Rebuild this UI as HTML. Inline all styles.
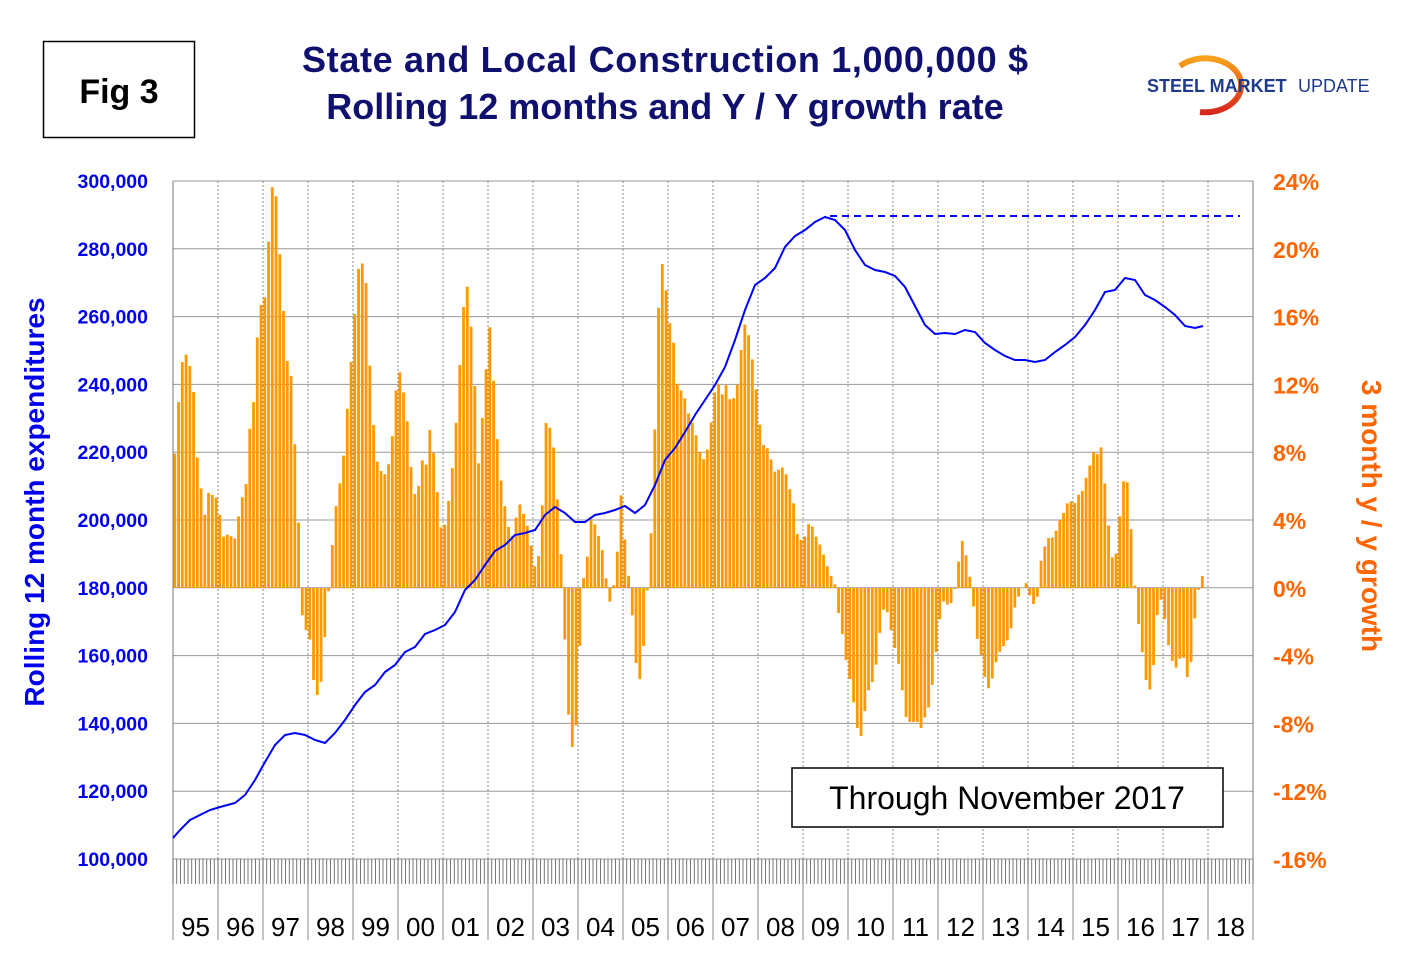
<!DOCTYPE html>
<html><head><meta charset="utf-8"><style>
body{margin:0;background:#fff;}
svg{display:block;font-family:"Liberation Sans",Arial,sans-serif;}
</style></head><body>
<svg id="s" width="1420" height="973" viewBox="0 0 1420 973" xmlns="http://www.w3.org/2000/svg">
<defs><linearGradient id="lg" x1="0" y1="0" x2="0" y2="1"><stop offset="0" stop-color="#f7a21b"/><stop offset="1" stop-color="#d9261c"/></linearGradient></defs>
<rect width="1420" height="973" fill="#fff"/>
<rect x="43.5" y="41.5" width="151" height="96" fill="#fff" stroke="#000" stroke-width="1.5"/>
<text x="119" y="103" font-size="34" font-weight="bold" text-anchor="middle">Fig 3</text>
<text x="665" y="72" font-size="36" font-weight="bold" fill="#10106e" text-anchor="middle" textLength="726">State and Local Construction 1,000,000 $</text>
<text x="665" y="119" font-size="36" font-weight="bold" fill="#10106e" text-anchor="middle">Rolling 12 months and Y / Y growth rate</text>
<path d="M1180,66 A36,27 0 1,1 1200,112" fill="none" stroke="url(#lg)" stroke-width="6"/>
<text x="1147" y="92" font-size="18" font-weight="bold" fill="#1f3a8a">STEEL MARKET</text>
<text x="1298" y="92" font-size="18" fill="#1f3a8a">UPDATE</text>
<g id="grid"></g>
<g id="bars" fill="#ff9900"></g>
<path id="line" fill="none" stroke="#0000ff" stroke-width="2"/>
<line x1="830" y1="216" x2="1240" y2="216" stroke="#0000ff" stroke-width="2" stroke-dasharray="7,5"/>
<rect x="792" y="768" width="431" height="59" fill="#fff" stroke="#000" stroke-width="1.5"/>
<text x="1007" y="809" font-size="32" text-anchor="middle">Through November 2017</text>
<g id="lab"></g>
<text transform="translate(44,502) rotate(-90)" font-size="28" font-weight="bold" fill="#0000ee" text-anchor="middle">Rolling 12 month expenditures</text>
<text transform="translate(1362,516) rotate(90)" font-size="28" font-weight="bold" fill="#ff6600" text-anchor="middle">3 month y / y growth</text>
</svg>
<script>
var NS="http://www.w3.org/2000/svg";
function el(p,t,a,txt){var e=document.createElementNS(NS,t);for(var k in a)e.setAttribute(k,a[k]);if(txt)e.textContent=txt;document.getElementById(p).appendChild(e);}
var L=173,R=1253,T=181,B=859;
for(var i=0;i<=10;i++){var y=T+i*67.8;el("grid","line",{x1:L,x2:R,y1:y,y2:y,stroke:"#999","stroke-width":1});
 el("lab","text",{x:148,y:y+7,"font-size":19.5,"font-weight":"bold",fill:"#0000ee","text-anchor":"end"},(300000-i*20000).toLocaleString("en-US"));
 el("lab","text",{x:1273,y:y+9,"font-size":23,"font-weight":"bold",fill:"#ff6600"},(24-i*4)+"%");}
var yrs=["95","96","97","98","99","00","01","02","03","04","05","06","07","08","09","10","11","12","13","14","15","16","17","18"];
for(var j=0;j<=24;j++){var x=L+j*45;el("grid","line",{x1:x,x2:x,y1:T,y2:B,stroke:"#888","stroke-width":1,"stroke-dasharray":"2,2"});
 el("grid","line",{x1:x,x2:x,y1:B,y2:940,stroke:"#888","stroke-width":1});
 if(j<24)el("lab","text",{x:x+22.5,y:936,"font-size":26,"text-anchor":"middle"},yrs[j]);}
for(var m=0;m<=288;m++){var x=L+m*3.75;el("grid","line",{x1:x,x2:x,y1:B,y2:884,stroke:"#555","stroke-width":0.8});}
el("grid","line",{x1:L,x2:L,y1:T,y2:B,stroke:"#777","stroke-width":1});
el("grid","line",{x1:R,x2:R,y1:T,y2:B,stroke:"#777","stroke-width":1});
var bk=[173,478,177,424,181,367,185,352,189,362,193,382,197,455,201,488,205,516,209,490,213,496,217,498,221,522,225,545,229,527,233,545,237,530,241,495,245,502,249,433,253,412,257,340,261,305,265,297,268,250,272,188,275,180,279,242,283,303,287,360,291,375,295,448,298,508,302,614,306,630,310,640,314,685,318,697,322,677,326,620,330,575,334,523,338,490,342,475,346,425,350,375,354,325,358,270,362,262,366,282,370,370,374,432,378,468,382,472,386,475,390,458,394,420,398,362,402,385,406,404,410,457,414,495,418,490,422,460,426,465,430,428,434,456,438,500,442,536,446,520,450,490,454,452,458,395,462,328,466,274,470,313,474,365,478,470,482,422,486,370,490,325,494,388,498,450,502,490,506,513,510,535,514,536,518,500,522,510,526,520,530,538,534,567,538,563,542,512,546,423,550,428,554,450,558,510,562,568,566,670,570,740,574,752,578,700,582,580,586,575,590,518,594,522,598,534,602,548,606,578,610,603,614,583,618,545,622,480,626,565,630,582,634,640,638,685,642,672,646,605,650,560,654,458,658,315,662,262,666,290,670,325,674,345,678,392,682,390,686,402,690,420,694,425,698,445,702,460,706,458,710,432,714,395,718,382,722,395,726,385,730,400,734,398,738,382,742,340,746,318,750,345,754,370,758,408,762,445,766,445,770,455,774,472,778,470,782,467,786,474,790,490,794,505,798,540,802,540,806,535,810,518,814,533,818,540,822,550,826,562,830,575,834,578,838,610,842,632,846,660,850,680,854,705,858,733,862,737,866,700,870,685,874,680,878,650,882,612,886,606,890,625,894,645,898,660,902,688,906,717,910,722,914,722,918,722,922,730,926,712,930,705,934,670,938,635,942,600,946,604,950,606,954,595,958,565,962,540,966,555,970,578,974,610,978,645,982,658,986,685,990,690,994,670,998,655,1002,648,1006,643,1010,635,1014,610,1018,598,1022,588,1026,583,1030,596,1034,605,1038,595,1042,550,1046,545,1050,534,1054,540,1058,522,1062,518,1066,505,1070,500,1074,505,1078,495,1082,492,1086,478,1090,465,1094,450,1098,455,1102,445,1106,500,1110,540,1114,570,1118,538,1122,490,1126,468,1130,512,1134,577,1138,620,1142,650,1146,680,1150,690,1154,662,1158,605,1162,598,1166,628,1170,655,1174,665,1178,670,1182,645,1186,678,1190,675,1194,625,1198,592,1202,576];
function interp(a,x){for(var i=0;i<a.length-2;i+=2){if(x<=a[i+2]){var t=(x-a[i])/(a[i+2]-a[i]);return a[i+1]+t*(a[i+3]-a[i+1]);}}return a[a.length-1];}
var Z=588;
for(var m=0;m<275;m++){var x=L+m*3.75+0.4;var y=interp(bk,x+1.4);var h=Math.abs(Z-y);if(h<0.5)continue;
 el("bars","rect",{x:x.toFixed(2),y:Math.min(y,Z).toFixed(1),width:2.8,height:h.toFixed(1)});}
var lk=[173,838,180,830,190,820,200,815,210,810,220,807,235,803,245,795,255,780,265,762,275,745,285,735,295,733,305,735,315,740,325,743,335,733,345,720,355,705,365,692,375,685,385,672,395,665,405,652,415,647,425,634,435,630,445,625,455,612,465,590,475,580,485,565,495,551,505,545,515,535,525,533,535,530,545,515,555,507,565,513,575,522,585,522,595,515,605,513,615,510,625,506,635,513,645,505,655,485,665,460,675,448,685,432,695,415,705,400,715,385,725,367,735,340,745,310,755,285,765,278,775,268,785,247,795,236,805,230,815,222,825,217,835,220,845,230,855,250,865,265,875,270,885,272,895,276,905,287,915,306,925,325,935,334,945,333,955,334,965,330,975,332,985,343,995,350,1005,356,1015,360,1025,360,1035,362,1045,360,1055,352,1065,345,1075,337,1085,325,1095,310,1105,292,1115,290,1125,278,1135,280,1145,295,1155,300,1165,307,1175,315,1185,326,1195,328,1203,326];
var d="M"+lk[0]+","+lk[1];for(var i=2;i<lk.length;i+=2)d+=" L"+lk[i]+","+lk[i+1];
document.getElementById("line").setAttribute("d",d);
</script>
</body></html>
